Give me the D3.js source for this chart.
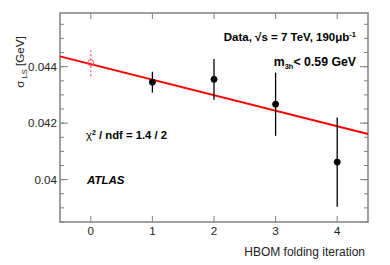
<!DOCTYPE html>
<head>
  <meta charset="utf-8">
  <script src="https://d3js.org/d3.v7.min.js"></script>
  <style>
    body { margin:0; background:#fff; }
    text { font-family: "Liberation Sans", Arial, sans-serif; }
  </style>
</head>
<body>
<script>
  // values
  var iteration = [0, 1, 2, 3, 4];
  var sigmaLS   = [0.04414, 0.04345, 0.04355, 0.04267, 0.04062];
  var sigmaErr  = [0.00048, 0.00037, 0.00072, 0.00112, 0.00158];
  var fitParams = [0.04409, -0.00055];   // intercept, slope
  var xTicks = [0, 1, 2, 3, 4];
  var yTicks = [0.04, 0.042, 0.044];

  var margin = {top: 13, right: 22, bottom: 43, left: 60},
      width = 390 - margin.left - margin.right,
      height = 265 - margin.top - margin.bottom;

  var svg = d3.select("body").append("svg")
      .attr("width", 390).attr("height", 265);
  var g = svg.append("g")
      .attr("transform", "translate(" + margin.left + "," + margin.top + ")");

  var x = d3.scaleLinear().domain([-0.5, 4.5]).range([0, width]);
  var y = d3.scaleLinear().domain([0.0385, 0.0459]).range([height, 0]);

  var axisColor = "#808080";

  // minor y ticks
  var minor = d3.range(0.0385, 0.0459, 0.0005).map(function(v) { return +v.toFixed(4); });

  g.selectAll(".yminL").data(minor).enter().append("line")
    .attr("x1", 0).attr("x2", 4)
    .attr("y1", function(d) { return y(d); }).attr("y2", function(d) { return y(d); })
    .attr("stroke", axisColor).attr("stroke-width", 1);
  g.selectAll(".yminR").data(minor).enter().append("line")
    .attr("x1", width).attr("x2", width - 4)
    .attr("y1", function(d) { return y(d); }).attr("y2", function(d) { return y(d); })
    .attr("stroke", axisColor).attr("stroke-width", 1);

  // major y ticks
  g.selectAll(".ymajL").data(yTicks).enter().append("line")
    .attr("x1", 0).attr("x2", 8)
    .attr("y1", function(d) { return y(d); }).attr("y2", function(d) { return y(d); })
    .attr("stroke", axisColor).attr("stroke-width", 1);
  g.selectAll(".ymajR").data(yTicks).enter().append("line")
    .attr("x1", width).attr("x2", width - 8)
    .attr("y1", function(d) { return y(d); }).attr("y2", function(d) { return y(d); })
    .attr("stroke", axisColor).attr("stroke-width", 1);

  g.selectAll(".ylab").data(yTicks).enter().append("text")
    .attr("x", -3).attr("y", function(d) { return y(d) + 4; })
    .attr("text-anchor", "end")
    .style("font-size", "11.6px").attr("fill", "#222")
    .text(function(d) { return d3.format("")(d); });

  // x ticks bottom and top
  g.selectAll(".xb").data(xTicks).enter().append("line")
    .attr("x1", function(d) { return x(d); }).attr("x2", function(d) { return x(d); })
    .attr("y1", height).attr("y2", height - 6)
    .attr("stroke", axisColor).attr("stroke-width", 1);
  g.selectAll(".xt").data(xTicks).enter().append("line")
    .attr("x1", function(d) { return x(d); }).attr("x2", function(d) { return x(d); })
    .attr("y1", 0).attr("y2", 6)
    .attr("stroke", axisColor).attr("stroke-width", 1);

  g.selectAll(".xlab").data(xTicks).enter().append("text")
    .attr("x", function(d) { return x(d); }).attr("y", height + 13)
    .attr("text-anchor", "middle")
    .style("font-size", "11.6px").attr("fill", "#222")
    .text(function(d) { return d; });

  // frame
  g.append("rect")
    .attr("width", width).attr("height", height)
    .attr("fill", "none").attr("stroke", axisColor).attr("stroke-width", 1.5);

  // fit line
  g.append("path")
    .datum([-0.5, 4.5])
    .attr("fill", "none").attr("stroke", "#ff0000").attr("stroke-width", 2)
    .attr("d", d3.line()
      .x(function(d) { return x(d); })
      .y(function(d) { return y(fitParams[0] + fitParams[1] * d); }));

  var pts = iteration.map(function(it, i) {
    return {x: it, y: sigmaLS[i], e: sigmaErr[i]};
  });

  // error bars
  g.selectAll(".err").data(pts).enter().append("line")
    .attr("x1", function(d) { return x(d.x); }).attr("x2", function(d) { return x(d.x); })
    .attr("y1", function(d) { return y(d.y - d.e); }).attr("y2", function(d) { return y(d.y + d.e); })
    .attr("stroke", function(d, i) { return i == 0 ? "#ff5a5a" : "#000"; })
    .attr("stroke-width", 1.3)
    .style("stroke-dasharray", function(d, i) { return i == 0 ? "2,2" : null; });

  g.selectAll(".pt").data(pts).enter().append("circle")
    .attr("cx", function(d) { return x(d.x); })
    .attr("cy", function(d) { return y(d.y); })
    .attr("r", 3)
    .attr("fill", function(d, i) { return i == 0 ? "#fff" : "#000"; })
    .attr("fill-opacity", function(d, i) { return i == 0 ? 0 : 1; })
    .attr("stroke", function(d, i) { return i == 0 ? "#ff5a5a" : "#000"; })
    .attr("stroke-width", 1);

  // labels
  var t1 = svg.append("text").attr("x", 356).attr("y", 41)
    .attr("text-anchor", "end").style("font-size", "11.5px").style("font-weight", "bold");
  t1.append("tspan").text("Data, \u221As = 7 TeV, 190\u03BCb");
  t1.append("tspan").attr("dy", -4).style("font-size", "7.5px").text("-1");

  var t2 = svg.append("text").attr("x", 356).attr("y", 66)
    .attr("text-anchor", "end").style("font-size", "12.3px").style("font-weight", "bold");
  t2.append("tspan").text("m");
  t2.append("tspan").attr("dy", 3).style("font-size", "7.5px").text("3h");
  t2.append("tspan").attr("dy", -3).text("< 0.59 GeV");

  var t3 = svg.append("text").attr("x", 86).attr("y", 139)
    .style("font-size", "11.3px").style("font-weight", "bold");
  t3.append("tspan").style("font-weight", "normal").text("\u03C7");
  t3.append("tspan").attr("dy", -4).style("font-size", "7px").text("2");
  t3.append("tspan").attr("dy", 4).text(" / ndf = 1.4 / 2");

  svg.append("text").attr("x", 87).attr("y", 184)
    .style("font-size", "11.5px").style("font-weight", "bold").style("font-style", "italic")
    .text("ATLAS");

  svg.append("text").attr("x", 365).attr("y", 256)
    .attr("text-anchor", "end").style("font-size", "12px").attr("fill", "#222")
    .text("HBOM folding iteration");

  var yl = svg.append("text")
    .attr("transform", "translate(24,62) rotate(-90)")
    .attr("text-anchor", "middle").style("font-size", "11.6px").attr("fill", "#222");
  yl.append("tspan").text("\u03C3");
  yl.append("tspan").attr("dy", 3).style("font-size", "7.5px").text(" LS");
  yl.append("tspan").attr("dy", -3).text("  [GeV]");
</script>
</body>
